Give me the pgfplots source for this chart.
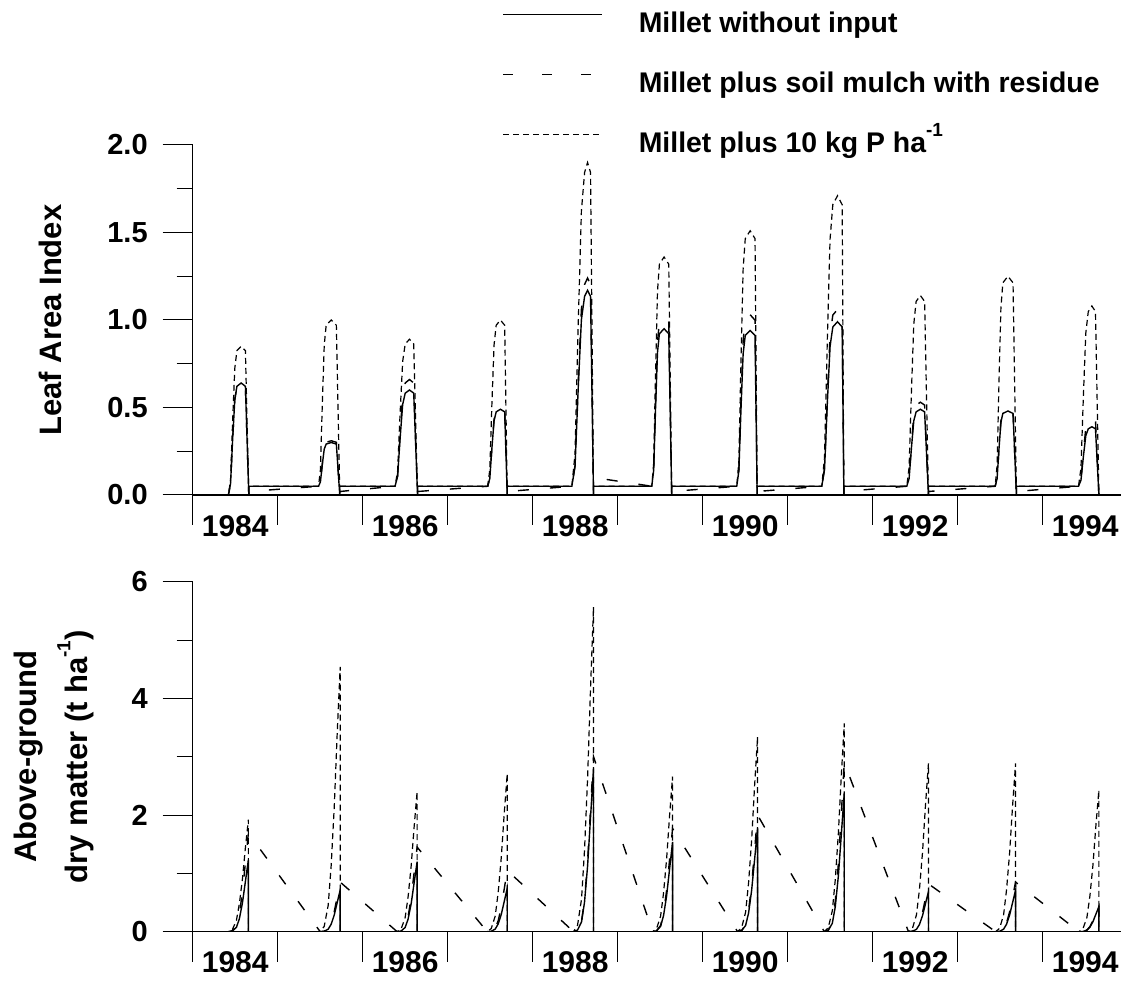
\documentclass[border=0pt]{standalone}
\usepackage{fontspec}
\setmainfont{Liberation Sans}
\usepackage{pgfplots}
\pgfplotsset{compat=1.18}

\newcommand{\sups}[1]{\raisebox{0.55em}{\fontsize{9.5}{11}\selectfont #1}}

\pgfplotsset{
  millet/.style={
    width=464.15pt, height=175pt, scale only axis,
    xmin=1984, xmax=1994.92,
    axis x line=bottom, axis y line=left,
    axis line style={-, line width=0.6pt},
    tick align=outside,
    major tick length=15pt, minor tick length=8pt,
    every tick/.style={black, line width=0.5pt},
    minor y tick num=1,
    xtick={1984,...,1994},
    xticklabels={1984,,1986,,1988,,1990,,1992,,1994},
    xticklabel style={font=\fontsize{15}{18}\selectfont\bfseries, xshift=21.25pt, yshift=8.5pt, anchor=north},
    yticklabel style={font=\fontsize{14.5}{17}\selectfont\bfseries, anchor=east, xshift=-4pt},
    /pgf/number format/assume math mode=true,
    label style={font=\fontsize{15.5}{25.3}\selectfont\bfseries},
  },
  plain/.style={black, line width=0.7pt},
  mulch/.style={black, line width=0.7pt, dash pattern=on 5.5pt off 10.5pt},
  phos/.style={black, line width=0.6pt, dash pattern=on 3pt off 2pt},
}

\begin{document}
\begin{tikzpicture}

% Leaf area index
\begin{axis}[millet, at={(96.35pt,243pt)}, anchor=south west,
  ymin=0, ymax=2, ytick={0,0.5,...,2},
  yticklabel style={/pgf/number format/.cd, fixed, fixed zerofill, precision=1},
  ylabel={Leaf Area Index},
  ylabel style={at={(axis description cs:-0.1411,0.5)}, anchor=base},
  legend style={at={(axis description cs:0.3332,1.3837)}, anchor=north west,
    draw=none, fill=none, inner sep=0pt, row sep=16.5pt, column sep=18pt,
    nodes={inner sep=0pt, text height=10.5pt, text depth=3pt,
      font=\fontsize{14.2}{17}\selectfont\bfseries}},
  legend cell align=left,
  legend image code/.code={\draw[#1] (0pt,5pt) -- (49.5pt,5pt);},
]
\addplot[plain] coordinates {
(1984,0) (1984.42,0) (1984.445,0.064) (1984.47,0.32) (1984.495,0.544) (1984.52,0.621) (1984.57,0.64) (1984.62,0.621) (1984.66,0) (1984.66,0.05)
(1985.48,0.05) (1985.5025,0.075) (1985.525,0.175) (1985.5475,0.2625) (1985.57,0.291) (1985.63,0.30) (1985.69,0.291) (1985.73,0) (1985.73,0.05)
(1986.38,0.05) (1986.41,0.105) (1986.44,0.325) (1986.47,0.5175) (1986.50,0.582) (1986.55,0.60) (1986.60,0.582) (1986.645,0) (1986.645,0.05)
(1987.47,0.05) (1987.495,0.094) (1987.52,0.27) (1987.545,0.424) (1987.57,0.475) (1987.62,0.49) (1987.67,0.475) (1987.70,0) (1987.70,0.05)
(1988.46,0.05) (1988.4975,0.162) (1988.535,0.61) (1988.5725,1.002) (1988.61,1.135) (1988.645,1.17) (1988.68,1.135) (1988.715,0) (1988.715,0.05)
(1989.40,0.05) (1989.4225,0.14) (1989.445,0.50) (1989.4675,0.815) (1989.49,0.9215) (1989.545,0.95) (1989.60,0.9215) (1989.635,0) (1989.635,0.05)
(1990.40,0.05) (1990.425,0.139) (1990.45,0.495) (1990.475,0.8065) (1990.50,0.912) (1990.5575,0.94) (1990.615,0.912) (1990.64,0) (1990.64,0.05)
(1991.40,0.05) (1991.4325,0.144) (1991.465,0.52) (1991.4975,0.849) (1991.53,0.96) (1991.585,0.99) (1991.64,0.96) (1991.66,0) (1991.66,0.05)
(1992.40,0.05) (1992.4275,0.094) (1992.455,0.27) (1992.4825,0.424) (1992.51,0.475) (1992.56,0.49) (1992.61,0.475) (1992.655,0) (1992.655,0.05)
(1993.44,0.05) (1993.4625,0.093) (1993.485,0.265) (1993.5075,0.4155) (1993.53,0.466) (1993.59,0.48) (1993.65,0.466) (1993.69,0) (1993.69,0.05)
(1994.42,0.05) (1994.449,0.084) (1994.4775,0.22) (1994.506,0.339) (1994.535,0.378) (1994.5775,0.39) (1994.62,0.378) (1994.66,0) (1994.92,0)
};
\addlegendentry{Millet without input}
\addplot[mulch, forget plot] coordinates {
(1984,0) (1984.42,0) (1984.445,0.064) (1984.47,0.32) (1984.495,0.544) (1984.52,0.621) (1984.57,0.64) (1984.62,0.621) (1984.66,0) (1984.66,0.02)
(1985.48,0.05) (1985.5025,0.076) (1985.525,0.18) (1985.5475,0.271) (1985.57,0.301) (1985.63,0.31) (1985.69,0.301) (1985.73,0) (1985.73,0.02)
(1986.38,0.05) (1986.41,0.111) (1986.44,0.355) (1986.47,0.5685) (1986.50,0.64) (1986.55,0.66) (1986.60,0.64) (1986.645,0) (1986.645,0.02)
(1987.47,0.05) (1987.495,0.095) (1987.52,0.275) (1987.545,0.4325) (1987.57,0.485) (1987.62,0.50) (1987.67,0.485) (1987.70,0) (1987.70,0.02)
(1988.46,0.05) (1988.4975,0.169) (1988.535,0.645) (1988.5725,1.0615) (1988.61,1.203) (1988.645,1.24) (1988.68,1.203) (1988.715,0) (1988.715,0.10)
(1989.40,0.05) (1989.4225,0.147) (1989.445,0.535) (1989.4675,0.8745) (1989.49,0.989) (1989.545,1.02) (1989.60,0.989) (1989.635,0) (1989.635,0.02)
(1990.40,0.05) (1990.425,0.148) (1990.45,0.54) (1990.475,0.883) (1990.50,0.999) (1990.5575,1.03) (1990.615,0.999) (1990.64,0) (1990.64,0.02)
(1991.40,0.05) (1991.4325,0.151) (1991.465,0.555) (1991.4975,0.9085) (1991.53,1.028) (1991.585,1.06) (1991.64,1.028) (1991.66,0) (1991.66,0.02)
(1992.40,0.05) (1992.4275,0.098) (1992.455,0.29) (1992.4825,0.458) (1992.51,0.514) (1992.56,0.53) (1992.61,0.514) (1992.655,0) (1992.655,0.02)
(1993.44,0.05) (1993.4625,0.094) (1993.485,0.27) (1993.5075,0.424) (1993.53,0.475) (1993.59,0.49) (1993.65,0.475) (1993.69,0) (1993.69,0.02)
(1994.42,0.05) (1994.449,0.089) (1994.4775,0.245) (1994.506,0.3815) (1994.535,0.427) (1994.5775,0.44) (1994.62,0.427) (1994.66,0) (1994.92,0)
};
\addlegendimage{black, line width=0.7pt, dash pattern=on 5pt off 14.5pt}
\addlegendentry{Millet plus soil mulch with residue}
\addplot[phos] coordinates {
(1984,0) (1984.42,0) (1984.445,0.085) (1984.47,0.425) (1984.495,0.723) (1984.52,0.825) (1984.57,0.85) (1984.62,0.825) (1984.66,0) (1984.66,0.05)
(1985.48,0.05) (1985.5025,0.145) (1985.525,0.525) (1985.5475,0.8575) (1985.57,0.97) (1985.63,1.0) (1985.69,0.97) (1985.73,0) (1985.73,0.05)
(1986.38,0.05) (1986.41,0.134) (1986.44,0.47) (1986.47,0.764) (1986.50,0.863) (1986.55,0.89) (1986.60,0.863) (1986.645,0) (1986.645,0.05)
(1987.47,0.05) (1987.495,0.145) (1987.52,0.525) (1987.545,0.8575) (1987.57,0.97) (1987.62,1.0) (1987.67,0.97) (1987.70,0) (1987.70,0.05)
(1988.46,0.05) (1988.4975,0.235) (1988.535,0.975) (1988.5725,1.6225) (1988.61,1.843) (1988.645,1.90) (1988.68,1.843) (1988.715,0) (1988.715,0.05)
(1989.40,0.05) (1989.4225,0.181) (1989.445,0.705) (1989.4675,1.1635) (1989.49,1.319) (1989.545,1.36) (1989.60,1.319) (1989.635,0) (1989.635,0.05)
(1990.40,0.05) (1990.425,0.196) (1990.45,0.78) (1990.475,1.291) (1990.50,1.465) (1990.5575,1.51) (1990.615,1.465) (1990.64,0) (1990.64,0.05)
(1991.40,0.05) (1991.4325,0.216) (1991.465,0.88) (1991.4975,1.461) (1991.53,1.659) (1991.585,1.71) (1991.64,1.659) (1991.66,0) (1991.66,0.05)
(1992.40,0.05) (1992.4275,0.159) (1992.455,0.595) (1992.4825,0.9765) (1992.51,1.106) (1992.56,1.14) (1992.61,1.106) (1992.655,0) (1992.655,0.05)
(1993.44,0.05) (1993.4625,0.17) (1993.485,0.65) (1993.5075,1.07) (1993.53,1.2125) (1993.59,1.25) (1993.65,1.2125) (1993.69,0) (1993.69,0.05)
(1994.42,0.05) (1994.449,0.153) (1994.4775,0.565) (1994.506,0.9255) (1994.535,1.048) (1994.5775,1.08) (1994.62,1.048) (1994.66,0) (1994.92,0)
};
\addlegendentry{Millet plus 10 kg P ha\sups{-1}}
\end{axis}

% Above-ground dry matter
\begin{axis}[millet, at={(96.35pt,24.65pt)}, anchor=south west,
  ymin=0, ymax=6, ytick={0,2,4,6},
  ylabel={Above-ground\\dry matter (t ha\sups{-1})},
  ylabel style={align=center, at={(axis description cs:-0.1494,0.5)}, anchor=center},
]
\addplot[plain] coordinates {
(1984,0) (1984.42,0) (1984.467,0.012) (1984.514,0.074) (1984.549,0.221) (1984.585,0.492) (1984.62,0.861) (1984.655,1.23) (1984.655,0)
(1985.50,0) (1985.547,0.007) (1985.594,0.043) (1985.629,0.129) (1985.665,0.286) (1985.70,0.50) (1985.735,0.715) (1985.735,0)
(1986.405,0) (1986.452,0.012) (1986.499,0.072) (1986.534,0.216) (1986.57,0.48) (1986.605,0.84) (1986.64,1.2) (1986.64,0)
(1987.465,0) (1987.512,0.007) (1987.559,0.045) (1987.594,0.134) (1987.63,0.297) (1987.665,0.52) (1987.70,0.743) (1987.70,0)
(1988.48,0) (1988.527,0.028) (1988.574,0.168) (1988.609,0.504) (1988.645,1.12) (1988.68,1.96) (1988.715,2.80) (1988.715,0)
(1989.41,0) (1989.457,0.015) (1989.504,0.092) (1989.539,0.277) (1989.575,0.616) (1989.61,1.078) (1989.645,1.54) (1989.645,0)
(1990.41,0) (1990.457,0.018) (1990.504,0.106) (1990.539,0.319) (1990.575,0.708) (1990.61,1.239) (1990.645,1.77) (1990.645,0)
(1991.43,0) (1991.477,0.024) (1991.524,0.143) (1991.559,0.428) (1991.595,0.952) (1991.63,1.666) (1991.665,2.38) (1991.665,0)
(1992.42,0) (1992.467,0.007) (1992.514,0.041) (1992.549,0.123) (1992.585,0.274) (1992.62,0.48) (1992.655,0.686) (1992.655,0)
(1993.445,0) (1993.492,0.007) (1993.539,0.043) (1993.574,0.129) (1993.61,0.286) (1993.645,0.50) (1993.68,0.715) (1993.68,0)
(1994.425,0) (1994.472,0.004) (1994.519,0.026) (1994.554,0.077) (1994.59,0.172) (1994.625,0.301) (1994.66,0.43) (1994.66,0) (1994.92,0)
};
\addplot[mulch] coordinates {
(1984,0) (1984.42,0) (1984.467,0.017) (1984.514,0.101) (1984.549,0.304) (1984.585,0.676) (1984.62,1.183) (1984.655,1.69)
(1985.50,0) (1985.547,0.0085) (1985.594,0.051) (1985.629,0.153) (1985.665,0.34) (1985.70,0.595) (1985.735,0.85)
(1986.405,0) (1986.452,0.0145) (1986.499,0.087) (1986.534,0.261) (1986.57,0.58) (1986.605,1.015) (1986.64,1.45)
(1987.465,0) (1987.512,0.0105) (1987.559,0.063) (1987.594,0.189) (1987.63,0.42) (1987.665,0.735) (1987.70,1.05)
(1988.48,0) (1988.527,0.03) (1988.574,0.18) (1988.609,0.54) (1988.645,1.2) (1988.68,2.1) (1988.715,3.0)
(1989.41,0) (1989.457,0.018) (1989.504,0.106) (1989.539,0.319) (1989.575,0.708) (1989.61,1.239) (1989.645,1.77)
(1990.41,0) (1990.457,0.02) (1990.504,0.12) (1990.539,0.36) (1990.575,0.8) (1990.61,1.4) (1990.645,2.0)
(1991.43,0) (1991.477,0.029) (1991.524,0.174) (1991.559,0.522) (1991.595,1.16) (1991.63,2.03) (1991.665,2.9)
(1992.42,0) (1992.467,0.008) (1992.514,0.049) (1992.549,0.148) (1992.585,0.328) (1992.62,0.574) (1992.655,0.82)
(1993.445,0) (1993.492,0.0085) (1993.539,0.051) (1993.574,0.153) (1993.61,0.34) (1993.645,0.595) (1993.68,0.85)
(1994.425,0) (1994.472,0.005) (1994.519,0.029) (1994.554,0.086) (1994.59,0.192) (1994.625,0.336) (1994.66,0.48) (1994.66,0) (1994.92,0)
};
\addplot[phos] coordinates {
(1984,0) (1984.42,0) (1984.467,0.038) (1984.514,0.192) (1984.549,0.48) (1984.585,0.902) (1984.62,1.44) (1984.655,1.92) (1984.655,0)
(1985.50,0) (1985.547,0.091) (1985.594,0.454) (1985.629,1.135) (1985.665,2.134) (1985.70,3.405) (1985.735,4.54) (1985.735,0)
(1986.405,0) (1986.452,0.048) (1986.499,0.24) (1986.534,0.60) (1986.57,1.128) (1986.605,1.80) (1986.64,2.40) (1986.64,0)
(1987.465,0) (1987.512,0.054) (1987.559,0.271) (1987.594,0.678) (1987.63,1.274) (1987.665,2.033) (1987.70,2.71) (1987.70,0)
(1988.48,0) (1988.527,0.111) (1988.574,0.557) (1988.609,1.393) (1988.645,2.618) (1988.68,4.178) (1988.715,5.57) (1988.715,0)
(1989.41,0) (1989.457,0.053) (1989.504,0.266) (1989.539,0.665) (1989.575,1.25) (1989.61,1.995) (1989.645,2.66) (1989.645,0)
(1990.41,0) (1990.457,0.067) (1990.504,0.334) (1990.539,0.835) (1990.575,1.57) (1990.61,2.505) (1990.645,3.34) (1990.645,0)
(1991.43,0) (1991.477,0.071) (1991.524,0.357) (1991.559,0.893) (1991.595,1.678) (1991.63,2.678) (1991.665,3.57) (1991.665,0)
(1992.42,0) (1992.467,0.058) (1992.514,0.289) (1992.549,0.722) (1992.585,1.356) (1992.62,2.165) (1992.655,2.886) (1992.655,0)
(1993.445,0) (1993.492,0.058) (1993.539,0.289) (1993.574,0.722) (1993.61,1.356) (1993.645,2.165) (1993.68,2.886) (1993.68,0)
(1994.425,0) (1994.472,0.049) (1994.519,0.243) (1994.554,0.608) (1994.59,1.142) (1994.625,1.823) (1994.66,2.43) (1994.66,0) (1994.92,0)
};
\end{axis}

\pgfresetboundingbox
\path[use as bounding box] (0pt,0pt) rectangle (560.5pt,490.5pt);
\end{tikzpicture}
\end{document}
